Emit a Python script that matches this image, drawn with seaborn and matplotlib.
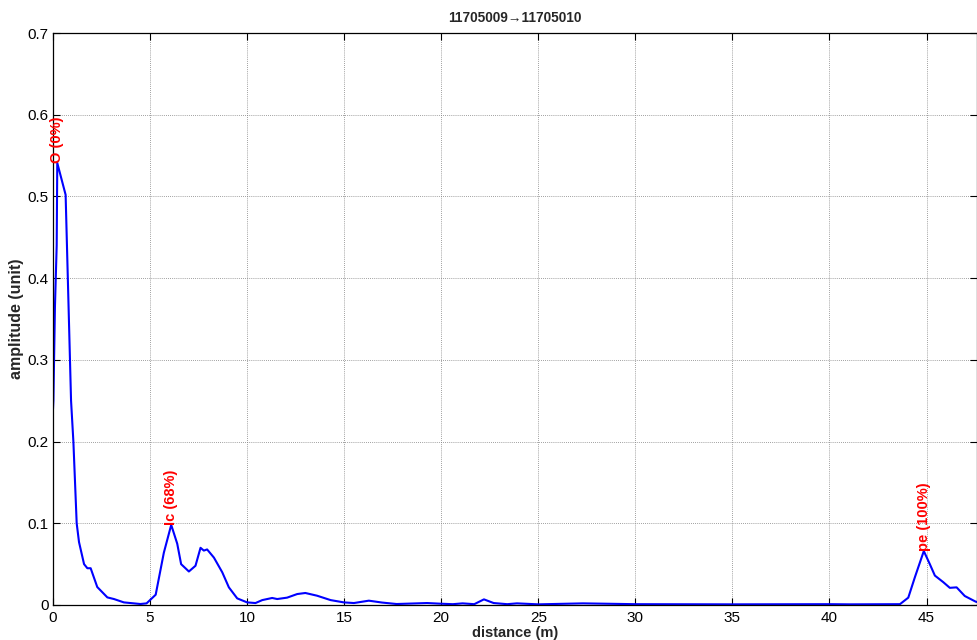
import numpy as np
import pandas as pd
import seaborn as sns
import matplotlib.pyplot as plt

# values
distance = [0, 0.02, 0.1, 0.19, 0.22, 0.65, 0.93, 1.05, 1.22, 1.34, 1.6, 1.77,
            1.94, 2.28, 2.8, 3.14, 3.65, 4.5, 4.82, 5.29, 5.71, 6.09, 6.4,
            6.6, 7.0, 7.34, 7.6, 7.77, 7.94, 8.29, 8.72, 9.06, 9.49, 10.0,
            10.43, 10.78, 11.29, 11.55, 12.06, 12.58, 13.0, 13.6, 14.3,
            14.98, 15.5, 16.27, 16.95, 17.7, 19.27, 19.95, 20.6, 21.1, 21.7,
            22.2, 22.7, 23.4, 23.9, 25.0, 27.3, 30.0, 35.0, 40.0, 41.05,
            43.63, 44.06, 44.4, 44.86, 45.17, 45.43, 45.86, 46.2, 46.55,
            46.97, 47.54, 47.8]
amplitude = [0.24, 0.25, 0.365, 0.44, 0.541, 0.502, 0.25, 0.2, 0.1, 0.077,
             0.050, 0.045, 0.045, 0.022, 0.0093, 0.0073, 0.0032, 0.0012,
             0.002, 0.0126, 0.064, 0.098, 0.075, 0.050, 0.041, 0.048, 0.070,
             0.0666, 0.068, 0.058, 0.040, 0.0216, 0.0081, 0.0032, 0.0024,
             0.006, 0.0086, 0.0073, 0.009, 0.0134, 0.0147, 0.0114, 0.006,
             0.0032, 0.0024, 0.0053, 0.003, 0.0012, 0.0024, 0.0016, 0.001,
             0.002, 0.001, 0.0069, 0.0024, 0.001, 0.002, 0.0008, 0.002,
             0.001, 0.0008, 0.001, 0.0008, 0.001, 0.009, 0.034, 0.066, 0.050,
             0.036, 0.028, 0.021, 0.0216, 0.011, 0.004, 0.003]

# peak annotations
peak_labels = ["O (0%)", "Ic (68%)", "pe (100%)"]
peak_x = [0.22, 6.09, 44.86]
peak_y = [0.541, 0.098, 0.066]

x_ticks = [0, 5, 10, 15, 20, 25, 30, 35, 40, 45]
y_ticks = [0, 0.1, 0.2, 0.3, 0.4, 0.5, 0.6, 0.7]

df = pd.DataFrame({"distance": distance, "amplitude": amplitude})

sns.set_style("ticks")
plt.rcParams["font.family"] = ["Liberation Sans", "DejaVu Sans"]
plt.rcParams["font.size"] = 11

fig = plt.figure(figsize=(9.77, 6.4), dpi=100)
ax = fig.add_axes([53 / 977, 35 / 640, 924 / 977, 572 / 640])

sns.lineplot(data=df, x="distance", y="amplitude", color="#0000ff",
             linewidth=1.5, sort=False, estimator=None, ax=ax)

for lab, px, py in zip(peak_labels, peak_x, peak_y):
    ax.text(px, py, lab, color="red", fontweight="bold", fontsize=10.5,
            rotation=90, ha="center", va="bottom")

ax.set_xlim(0, 47.6)
ax.set_ylim(0, 0.7)
ax.set_xticks(x_ticks)
ax.set_yticks(y_ticks)
ax.set_yticklabels(["0", "0.1", "0.2", "0.3", "0.4", "0.5", "0.6", "0.7"])
ax.grid(True, color="#808080", linestyle=(0, (1, 1.5)), linewidth=0.6)
ax.tick_params(direction="in", length=5, width=0.8, top=True, right=True,
               labelsize=11, colors="black")
ax.tick_params(axis="x", pad=4)
ax.tick_params(axis="y", pad=3)
for sp in ax.spines.values():
    sp.set_color("black")
    sp.set_linewidth(0.9)

ax.set_title("11705009\u219211705010", fontweight="bold", fontsize=9.8, pad=8)
ax.set_xlabel("distance (m)", fontweight="bold", fontsize=10.5, labelpad=1)
ax.set_ylabel("amplitude (unit)", fontweight="bold", fontsize=11.5,
              labelpad=3)

fig.savefig("out.png", dpi=100)
